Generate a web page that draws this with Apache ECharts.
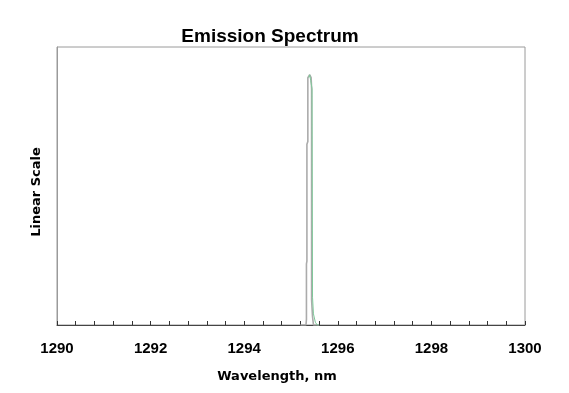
<!DOCTYPE html>
<html><head><meta charset="utf-8">
<script src="https://cdn.jsdelivr.net/npm/echarts@6/dist/echarts.min.js"></script>
<style>html,body{margin:0;padding:0;background:#fff}#c{width:569px;height:393px}</style>
</head><body><div id="c"></div>
<script>
// Gray trace (wavelength nm, linear intensity)
const grayWl  = [1295.20,1295.32,1295.33,1295.33,1295.34,1295.34,1295.36,1295.36,1295.40,1295.43,1295.44,1295.44,1295.46,1295.48,1295.60];
const grayVal = [0,      0,      0.02,   0.22,   0.23,   0.65,   0.66,   0.89,   0.90,   0.89,   0.85,   0.09,   0.03,   0,      0];
// Green trace
const greenWl  = [1295.38,1295.40,1295.42,1295.45,1295.46,1295.48,1295.52,1295.56,1295.60];
const greenVal = [0.89,   0.90,   0.88,   0.85,   0.10,   0.04,   0.01,   0,      0];
const xTicks = [1290,1292,1294,1296,1298,1300];

const ch = echarts.init(document.getElementById('c'), null, {renderer:'canvas'});
const font = '"Liberation Sans", Arial, sans-serif';
const wide = '"DejaVu Sans", sans-serif';
ch.setOption({
  animation:false,
  title:{text:'Emission Spectrum', left:265, top:22, textAlign:'center',
    textStyle:{fontFamily:font, fontWeight:'bold', fontSize:19, color:'#000'}},
  grid:{left:57, right:44, top:47, bottom:68, show:true, borderColor:'#9a9a9a', borderWidth:1},
  xAxis:{type:'value', min:xTicks[0], max:xTicks[xTicks.length-1], interval:2,
    name:'Wavelength, nm', nameLocation:'middle', nameGap:45,
    nameTextStyle:{fontFamily:wide, fontWeight:'bold', fontSize:13, color:'#000', padding:[0,28,0,0]},
    axisLine:{show:true, onZero:false, lineStyle:{color:'#444', width:1}},
    axisTick:{show:true, inside:true, length:4, lineStyle:{color:'#333'}},
    minorTick:{show:true, splitNumber:5, length:4, lineStyle:{color:'#333'}},
    axisLabel:{fontFamily:font, fontWeight:'bold', fontSize:15, color:'#000', margin:16,
      formatter:v=>String(Math.round(v))},
    splitLine:{show:false}},
  yAxis:{type:'value', min:0, max:1,
    name:'Linear Scale', nameLocation:'middle', nameGap:14, nameRotate:90,
    nameTextStyle:{fontFamily:wide, fontWeight:'bold', fontSize:13, color:'#000', padding:[0,12,0,0]},
    axisLine:{show:true, lineStyle:{color:'#9a9a9a'}}, axisTick:{show:false},
    axisLabel:{show:false}, splitLine:{show:false}},
  series:[
    {type:'line', showSymbol:false, data:grayWl.map((x,i)=>[x,grayVal[i]]),
      lineStyle:{color:'#ababab', width:1.6}},
    {type:'line', showSymbol:false, data:greenWl.map((x,i)=>[x,greenVal[i]]),
      lineStyle:{color:'#7fc99a', width:1}}
  ]
});
</script></body></html>
